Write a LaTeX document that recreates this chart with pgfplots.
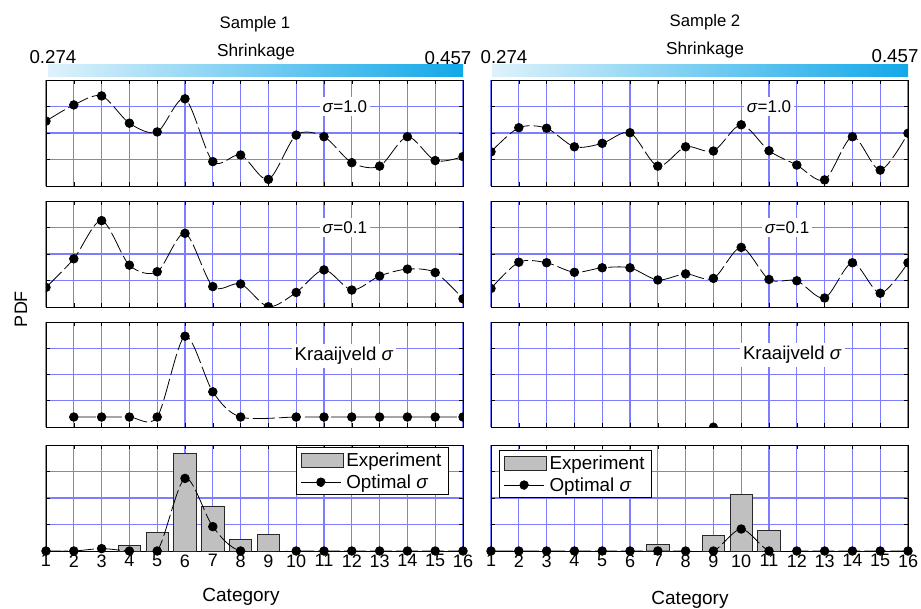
\documentclass[border=0pt]{standalone}
\usepackage{pgfplots}
\pgfplotsset{compat=1.18}
\usepackage{fontspec}
\setmainfont{Liberation Sans}
\newcommand{\fs}[1]{\fontsize{#1}{#1}\selectfont}
\newcommand{\sig}{\textit{σ}}
\definecolor{bargray}{RGB}{192,192,192}
\definecolor{cbL}{RGB}{222,242,251}
\definecolor{cbR}{RGB}{18,168,232}
\definecolor{gridblue}{RGB}{125,125,255}
\tikzset{lab/.style={fill=white, inner sep=3pt, font=\fs{17}}}
\pgfplotsset{
  panel/.style={scale only axis, width=417pt, height=106pt,
    anchor=north west,
    xmin=1, xmax=16, ymin=0, ymax=4,
    xtick={1,...,16}, ytick={1,2,3},
    xticklabels={}, yticklabels={},
    grid=major,
    major grid style={color=gridblue, line width=1.1pt, solid},
    tick align=inside, major tick length=4pt,
    tick style={black, line width=0.6pt},
    axis line style={line width=0.9pt},
    clip marker paths=true,
    /pgf/number format/assume math mode=true,
    ticklabel style={font=\fs{18}},
  },
  curve/.style={black, line width=0.8pt, smooth, dash pattern=on 22pt off 4pt,
    mark=*, mark size=4.3pt, mark options={solid, fill=black}},
  bars/.style={ybar, bar shift=0pt, bar width=0.8, fill=bargray,
    draw={rgb,255:red,40;green,40;blue,40}, line width=0.8pt,
    legend image code/.code={\draw[#1] (0pt,-7pt) rectangle (42pt,7pt);}},
  curveleg/.style={legend image code/.code={\draw[black, line width=0.8pt, solid] (0pt,0pt) -- (40pt,0pt); \fill[black] (20pt,0pt) circle (4.3pt);}},
  legbox/.style={font=\fs{18.8}, draw=black, line width=0.8pt, inner xsep=4pt, inner ysep=3pt, row sep=3pt,
     nodes={inner xsep=3pt}},
}
\begin{document}
\begin{tikzpicture}
\useasboundingbox (0pt,0pt) rectangle (921pt,-608pt);
% titles and colour bars
\node[font=\fs{16.7}] at (255pt,-24pt) {Sample 1};
\node[font=\fs{16.7}] at (705pt,-22pt) {Sample 2};
\node[font=\fs{17.3}] at (256pt,-52pt) {Shrinkage};
\node[font=\fs{17.3}] at (705pt,-50pt) {Shrinkage};
\node[font=\fs{18.7}] at (53pt,-57pt) {0.274};
\node[font=\fs{18.7}] at (448pt,-58pt) {0.457};
\node[font=\fs{18.7}] at (504pt,-57pt) {0.274};
\node[font=\fs{18.7}] at (895pt,-56pt) {0.457};
\shade[left color=cbL, right color=cbR] (48pt,-64pt) rectangle (463pt,-76pt);
\shade[left color=cbL, right color=cbR] (492pt,-64pt) rectangle (908pt,-76pt);
\node[font=\fs{18}, rotate=90] at (21pt,-309pt) {PDF};
\node[font=\fs{19}] at (241pt,-597pt) {Category};
\node[font=\fs{19}] at (690pt,-600pt) {Category};

% ---- row 1 ----
\begin{axis}[panel, at={(46pt,-80pt)}]
\addplot[curve] coordinates {(1,2.45)(2,3.06)(3,3.40)(4,2.37)(5,2.04)(6,3.29)(7,0.92)(8,1.17)(9,0.25)(10,1.92)(11,1.86)(12,0.88)(13,0.75)(14,1.86)(15,0.96)(16,1.11)};
\node[lab] at (axis cs:11.75,3.0) {\sig=1.0};
\end{axis}
\begin{axis}[panel, at={(491pt,-80pt)}]
\addplot[curve] coordinates {(1,1.29)(2,2.20)(3,2.18)(4,1.48)(5,1.61)(6,2.01)(7,0.75)(8,1.48)(9,1.32)(10,2.31)(11,1.33)(12,0.79)(13,0.23)(14,1.86)(15,0.60)(16,1.99)};
\node[lab] at (axis cs:11.0,3.0) {\sig=1.0};
\end{axis}
% ---- row 2 ----
\begin{axis}[panel, at={(46pt,-201pt)}]
\addplot[curve] coordinates {(1,0.74)(2,1.82)(3,3.26)(4,1.58)(5,1.33)(6,2.78)(7,0.77)(8,0.87)(9,0.01)(10,0.55)(11,1.40)(12,0.64)(13,1.17)(14,1.43)(15,1.30)(16,0.31)};
\node[lab] at (axis cs:11.75,3.0) {\sig=0.1};
\end{axis}
\begin{axis}[panel, at={(491pt,-201pt)}]
\addplot[curve] coordinates {(1,0.70)(2,1.69)(3,1.67)(4,1.31)(5,1.48)(6,1.48)(7,1.02)(8,1.25)(9,1.08)(10,2.25)(11,1.04)(12,0.99)(13,0.34)(14,1.67)(15,0.52)(16,1.67)};
\node[lab] at (axis cs:11.65,3.0) {\sig=0.1};
\end{axis}
% ---- row 3 ----
\begin{axis}[panel, at={(46pt,-322pt)}, height=105pt]
\addplot[curve] coordinates {(2,0.38)(3,0.38)(4,0.38)(5,0.38)(6,3.46)(7,1.34)(8,0.38)(10,0.38)(11,0.38)(12,0.38)(13,0.38)(14,0.38)(15,0.38)(16,0.38)};
\node[lab, font=\fs{18.6}] at (axis cs:11.72,2.7) {Kraaijveld \sig};
\end{axis}
\begin{axis}[panel, at={(491pt,-322pt)}, height=105pt]
\addplot[only marks, mark=*, mark size=4.3pt, black] coordinates {(9,0)};
\node[lab, font=\fs{18.6}] at (axis cs:11.84,2.74) {Kraaijveld \sig};
\end{axis}
% ---- row 4 ----
\begin{axis}[panel, at={(46pt,-445pt)}, xticklabels={1,...,16}, clip marker paths=false,
  legend style={at={(0.966,0.98)}, anchor=north east, legbox},
  legend cell align=left]
\addplot[bars] coordinates {(4,0.21)(5,0.70)(6,3.69)(7,1.70)(8,0.42)(9,0.64)};
\addlegendentry{Experiment}
\addplot[curve, curveleg] coordinates {(1,0)(2,0)(3,0.09)(4,0)(5,0)(6,2.74)(7,0.92)(8,0)(10,0)(11,0)(12,0)(13,0)(14,0)(15,0)(16,0)};
\addlegendentry{Optimal \sig}
\end{axis}
\begin{axis}[panel, at={(491pt,-445pt)}, xticklabels={1,...,16}, clip marker paths=false,
  legend style={at={(0.02,0.953)}, anchor=north west, legbox},
  legend cell align=left]
\addplot[bars] coordinates {(7,0.25)(9,0.59)(10,2.14)(11,0.78)};
\addlegendentry{Experiment}
\addplot[curve, curveleg] coordinates {(1,0)(2,0)(3,0)(4,0)(5,0)(6,0)(7,0)(8,0)(9,0)(10,0.83)(11,0)(12,0)(13,0)(14,0)(15,0)(16,0)};
\addlegendentry{Optimal \sig}
\end{axis}
\end{tikzpicture}
\end{document}
